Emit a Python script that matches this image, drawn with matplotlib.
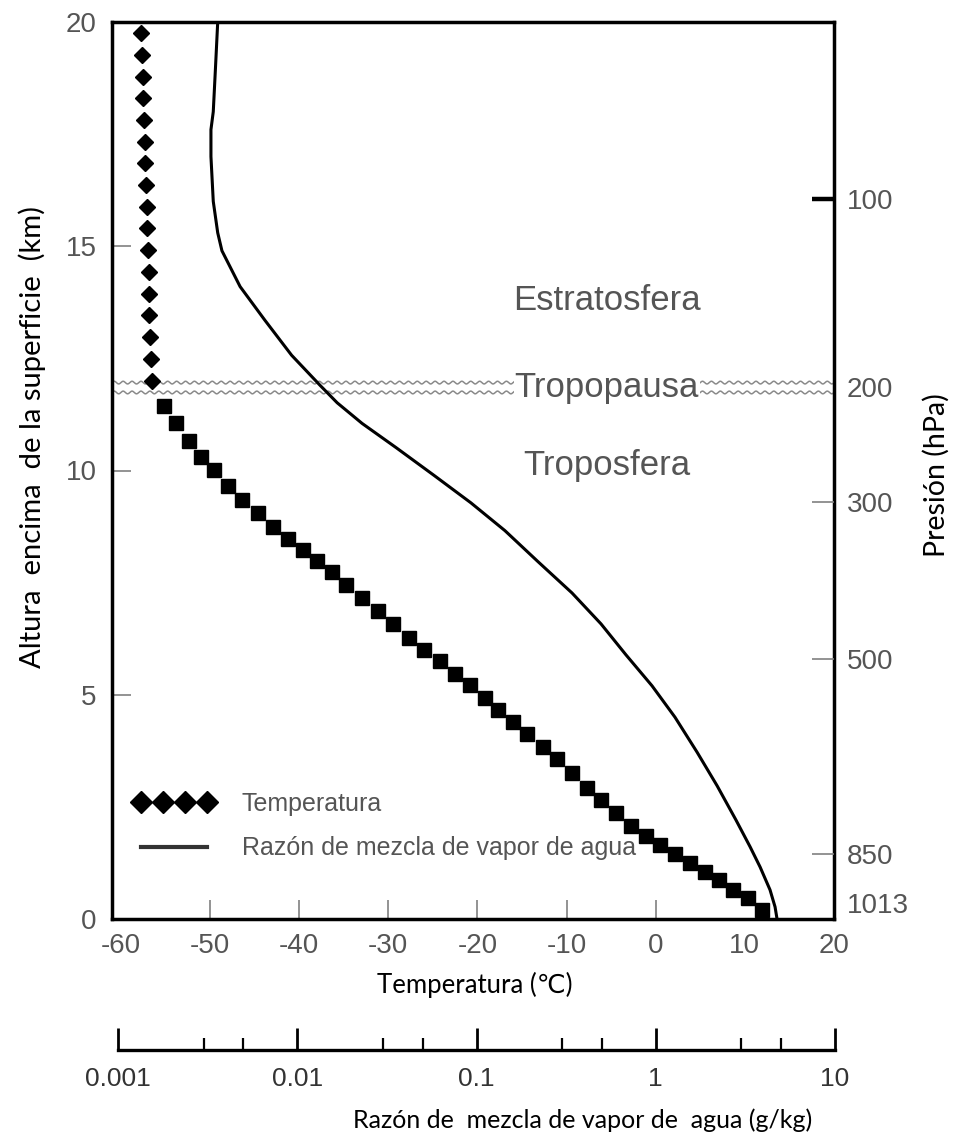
import matplotlib.pyplot as plt
import numpy as np
from matplotlib.lines import Line2D

# temperatura de la estratosfera (rombos), altura en km
strat_alt = [19.75, 19.27, 18.78, 18.30, 17.82, 17.33, 16.85, 16.36, 15.88,
             15.40, 14.91, 14.43, 13.94, 13.46, 12.98, 12.49, 12.00]
strat_temp = [-57.7, -57.6, -57.5, -57.5, -57.4, -57.3, -57.3, -57.2, -57.1,
              -57.1, -57.0, -56.9, -56.9, -56.8, -56.7, -56.6, -56.5]

# temperatura de la troposfera (cuadrados)
trop_alt = [11.43, 11.05, 10.66, 10.31, 10.01, 9.66, 9.35, 9.06, 8.75, 8.47,
            8.22, 7.98, 7.74, 7.44, 7.16, 6.87, 6.58, 6.26, 6.00, 5.75,
            5.47, 5.21, 4.93, 4.66, 4.39, 4.12, 3.83, 3.56, 3.25, 2.93,
            2.66, 2.36, 2.08, 1.85, 1.64, 1.44, 1.25, 1.05, 0.86, 0.65,
            0.46, 0.21]
trop_temp = [-55.2, -53.8, -52.4, -51.0, -49.6, -48.0, -46.4, -44.6, -42.9, -41.3,
             -39.6, -38.0, -36.3, -34.7, -32.9, -31.2, -29.5, -27.7, -26.0, -24.2,
             -22.5, -20.8, -19.2, -17.7, -16.0, -14.4, -12.6, -11.1, -9.4, -7.7,
             -6.1, -4.5, -2.8, -1.1, 0.5, 2.2, 3.8, 5.5, 7.1, 8.7,
             10.3, 11.9]

# razón de mezcla de vapor de agua (g/kg)
vapor_alt = [20.0, 19.0, 18.0, 17.6, 17.0, 16.0, 15.3, 14.9, 14.1, 13.35,
             12.57, 11.9, 11.51, 11.05, 10.51, 9.89, 9.28, 8.66, 7.97, 7.27,
             6.58, 5.89, 5.20, 4.50, 3.72, 2.97, 2.21, 1.61, 1.16, 0.65, 0.27, 0.0]
vapor_mix = [0.0036, 0.0035, 0.0034, 0.0033, 0.0033, 0.0034, 0.0036, 0.0038, 0.0048, 0.0066,
             0.0093, 0.0134, 0.0167, 0.023, 0.0356, 0.058, 0.093, 0.144, 0.22, 0.341,
             0.495, 0.682, 0.953, 1.28, 1.70, 2.20, 2.80, 3.36, 3.82, 4.34, 4.63, 4.75]

temp_ticks = [-60, -50, -40, -30, -20, -10, 0, 10, 20]
alt_ticks = [0, 5, 10, 15, 20]
press_labels = ["100", "200", "300", "500", "850", "1013"]
press_alt = [16.05, 11.86, 9.3, 5.8, 1.45, 0.0]
mix_ticks = [0.001, 0.01, 0.1, 1, 10]
mix_labels = ["0.001", "0.01", "0.1", "1", "10"]

tropopause_alt = 11.85
region_labels = ["Estratosfera", "Tropopausa", "Troposfera"]
region_alt = [13.8, 11.86, 10.12]

SANS = ["Liberation Sans", "DejaVu Sans"]
CALIBRI_LIKE = ["Lato", "DejaVu Sans"]
GRAY_TEXT = "#555555"
TICK_GRAY = "#808080"

W, H = 955, 1141
fig = plt.figure(figsize=(W / 100, H / 100), dpi=100)

# posiciones en píxeles de la figura original
ml, mr, mt, mb = 112, 834, 22, 919
ax = fig.add_axes([ml / W, 1 - mb / H, (mr - ml) / W, (mb - mt) / H])
ax.set_xlim(-61, 20)
ax.set_ylim(0, 20)

for side in ax.spines.values():
    side.set_linewidth(2.5)
    side.set_color("black")

major_x = [t for t in temp_ticks if -50 <= t <= 0]
edge_x = [t for t in temp_ticks if t < -50 or t > 0]
ax.set_xticks(major_x, [str(t) for t in major_x])
ax.set_xticks(edge_x, [str(t) for t in edge_x], minor=True)
major_y = alt_ticks[1:-1]
edge_y = [alt_ticks[0], alt_ticks[-1]]
ax.set_yticks(major_y, [str(t) for t in major_y])
ax.set_yticks(edge_y, [str(t) for t in edge_y], minor=True)
ax.tick_params(which="major", direction="in", length=14, width=1.2, color=TICK_GRAY)
ax.tick_params(which="minor", length=0)
ax.tick_params(axis="x", which="both", pad=10, labelsize=20, labelcolor=GRAY_TEXT)
ax.tick_params(axis="y", which="both", pad=11, labelsize=20, labelcolor=GRAY_TEXT)
for lab in ax.get_xticklabels(which="both") + ax.get_yticklabels(which="both"):
    lab.set_family(SANS)

# perfil de temperatura
ax.plot(strat_temp, strat_alt, ls="none", marker="D", ms=8.5, color="black")
ax.plot(trop_temp, trop_alt, ls="none", marker="s", ms=10, color="black")

# razón de mezcla en eje logarítmico alineado con la escala inferior
bl, br, by = 118, 835, 1050
dec = 4 / (br - bl)
axv = ax.twiny()
axv.set_xscale("log")
axv.set_xlim(10 ** (-3 - (bl - ml) * dec), 10 ** (1 + (mr - br) * dec))
axv.xaxis.set_visible(False)
for side in axv.spines.values():
    side.set_visible(False)
axv.plot(vapor_mix, vapor_alt, color="black", lw=2.2, solid_joinstyle="round")

# tropopausa ondulada
wave_x = np.linspace(-61, 20, 1200)
wave = 0.03 * np.sin(2 * np.pi * wave_x / 1.0)
for off in (0.11, -0.11):
    ax.plot(wave_x, tropopause_alt + off + wave, color="#8a8a8a", lw=1.1, zorder=1)

for name, alt in zip(region_labels, region_alt):
    txt = ax.text(-5.5, alt, name, ha="center", va="center", fontsize=25,
                  color=GRAY_TEXT, family=SANS, zorder=3)
    if name == "Tropopausa":
        txt.set_bbox(dict(facecolor="white", edgecolor="none", pad=0.5))

# eje derecho: presión
axp = ax.twinx()
axp.set_ylim(0, 20)
tick_idx = [i for i, p in enumerate(press_labels) if p not in ("200", "1013")]
hidden_idx = [i for i, p in enumerate(press_labels) if p in ("200", "1013")]
axp.set_yticks([press_alt[i] for i in tick_idx], [press_labels[i] for i in tick_idx])
axp.set_yticks([press_alt[i] for i in hidden_idx], [press_labels[i] for i in hidden_idx], minor=True)
axp.tick_params(which="major", direction="in", length=16, width=1.2, color=TICK_GRAY)
axp.tick_params(which="minor", length=0)
axp.tick_params(which="both", pad=9, labelsize=20, labelcolor=GRAY_TEXT)
top_tick = axp.yaxis.get_major_ticks()[0].tick2line
top_tick.set_markeredgewidth(3.2)
top_tick.set_markeredgecolor("black")
for lab in axp.get_yticklabels(which="both"):
    lab.set_family(SANS)
    if lab.get_text() == "1013":
        lab.set_verticalalignment("bottom")
for side in axp.spines.values():
    side.set_visible(False)

# leyenda
handles = [
    Line2D([], [], ls="none", marker="D", ms=11, color="black"),
    Line2D([], [], color="#333333", lw=3.0),
]
ax.legend(handles, ["Temperatura", "Razón de mezcla de vapor de agua"],
          loc="center left", bbox_to_anchor=((133 - ml) / (mr - ml), (mb - 826) / (mb - mt)),
          borderaxespad=0, borderpad=0, frameon=False, numpoints=4,
          handlelength=3.24, handletextpad=1.1, labelspacing=0.84,
          prop={"family": SANS, "size": 18}, labelcolor=GRAY_TEXT)

# escala inferior de razón de mezcla
axb = fig.add_axes([bl / W, 1 - by / H, (br - bl) / W, 0.02])
axb.set_xscale("log")
axb.set_xlim(mix_ticks[0], mix_ticks[-1])
axb.set_yticks([])
axb.patch.set_visible(False)
for name in ("top", "left", "right"):
    axb.spines[name].set_visible(False)
axb.spines["bottom"].set_linewidth(2.4)
axb.set_xticks(mix_ticks, mix_labels)
minor_pos = [m * d for d in mix_ticks[:-1] for m in (3, 5)]
axb.set_xticks(minor_pos, minor=True)
axb.tick_params(which="major", direction="in", length=16, width=2.0, color="black",
                pad=12, labelsize=19, labelcolor="#333333")
axb.tick_params(which="minor", direction="in", length=9, width=1.6, color="black")
for lab in axb.get_xticklabels():
    lab.set_family(SANS)

fig.text(475 / W, 1 - 985 / H, "Temperatura (\u2103)", ha="center", va="center",
         fontsize=18.5, family=CALIBRI_LIKE)
fig.text(583 / W, 1 - 1120 / H, "Razón de  mezcla de vapor de  agua (g/kg)",
         ha="center", va="center", fontsize=18, family=CALIBRI_LIKE)
fig.text(32 / W, 1 - 437 / H, "Altura  encima  de la superficie  (km)", rotation=90,
         ha="center", va="center", fontsize=21, family=CALIBRI_LIKE)
fig.text(936 / W, 1 - 475 / H, "Presión (hPa)", rotation=90,
         ha="center", va="center", fontsize=20.5, family=CALIBRI_LIKE)

fig.savefig("out.png", dpi=100, facecolor="white")
